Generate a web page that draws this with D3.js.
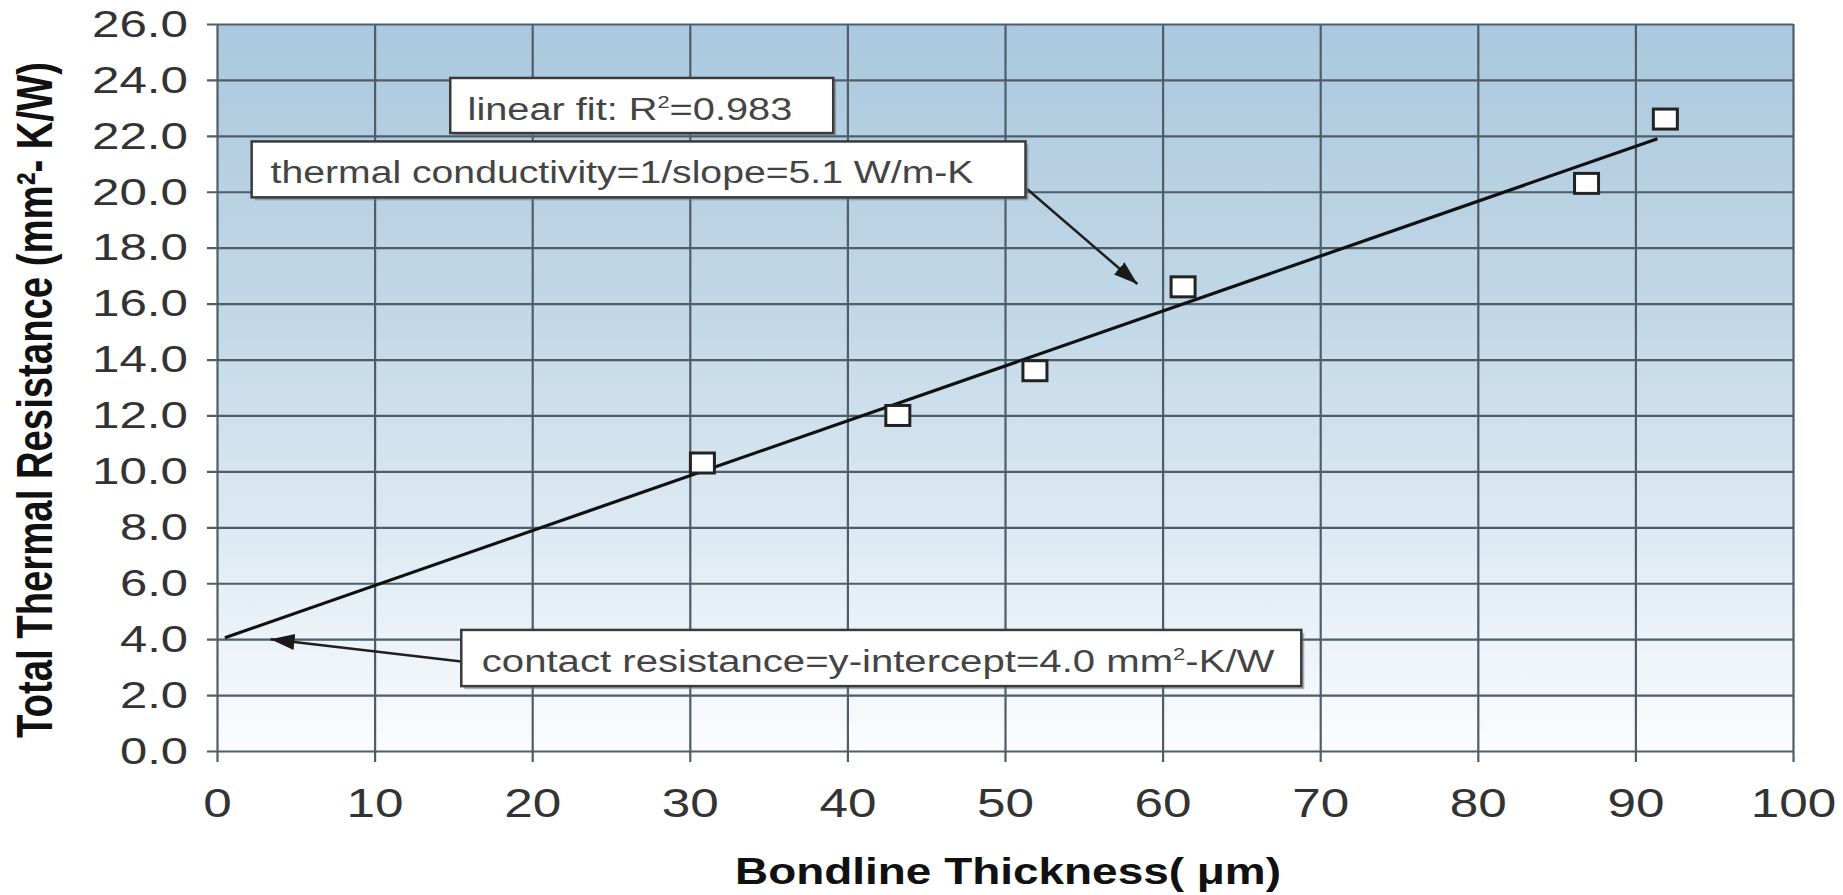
<!DOCTYPE html>
<html>
<head>
<meta charset="utf-8">
<script src="https://cdn.jsdelivr.net/npm/d3@7"></script>
<style>
body{margin:0;background:#fff;}
svg{display:block;font-family:"Liberation Sans",Arial,sans-serif;}
</style>
</head>
<body>
<svg id="chart" width="1843" height="895" viewBox="0 0 1843 895"></svg>
<script>
// measured points
const thickness = [30.8, 43.2, 51.9, 61.3, 86.9, 91.9]
const resistance = [10.3, 12.0, 13.6, 16.6, 20.3, 22.6]

// linear fit end points
const fit_x = [0.5, 91.4]
const fit_y = [4.05, 21.9]

const x_ticks = [0, 10, 20, 30, 40, 50, 60, 70, 80, 90, 100]
const y_ticks = [0, 2, 4, 6, 8, 10, 12, 14, 16, 18, 20, 22, 24, 26]

const x_title = "Bondline Thickness( \u03bcm)"
const y_title = "Total Thermal Resistance (mm\u00b2- K/W)"

// annotation boxes, in data units: [x0, yTop, x1, yBottom], text from tx0 to tx1
const notes = [
    {parts: [["linear fit: R", 0], ["2", 1], ["=0.983", 0]], box: [14.8, 24.07, 39.1, 22.1], tx: [15.9, 36.5]},
    {parts: [["thermal conductivity=1/slope=5.1 W/m-K", 0]], box: [2.2, 21.8, 51.3, 19.8], tx: [3.4, 48.0]},
    {parts: [["contact resistance=y-intercept=4.0 mm", 0], ["2", 1], ["-K/W", 0]], box: [15.5, 4.33, 68.8, 2.32], tx: [16.8, 67.1]}
]
const arrows = [
    {from: [51.4, 20.1], to: [58.4, 16.7]},
    {from: [15.5, 3.2], to: [3.4, 4.0]}
]

const svg = d3.select("#chart")
const m_left = 217, m_right = 1793, m_top = 24, m_bottom = 751
const w = m_right - m_left, h = m_bottom - m_top

const x = d3.scaleLinear().domain([0, 100]).range([m_left, m_right])
const y = d3.scaleLinear().domain([0, 26]).range([m_bottom, m_top])

const defs = svg.append("defs")
const grad = defs.append("linearGradient")
    .attr("id", "bg").attr("x1", 0).attr("y1", 0).attr("x2", 0).attr("y2", 1)
grad.append("stop").attr("offset", "0%").attr("stop-color", "#abc8de")
grad.append("stop").attr("offset", "40%").attr("stop-color", "#c2d8e7")
grad.append("stop").attr("offset", "75%").attr("stop-color", "#e2edf5")
grad.append("stop").attr("offset", "100%").attr("stop-color", "#fbfcfe")

defs.append("marker")
    .attr("id", "head")
    .attr("markerUnits", "userSpaceOnUse")
    .attr("markerWidth", 26).attr("markerHeight", 18)
    .attr("refX", 24).attr("refY", 8)
    .attr("orient", "auto")
    .append("path")
    .attr("d", "M0,0 L24,8 L0,16 Z")
    .attr("fill", "#1a1a1a")

svg.append("rect")
    .attr("x", m_left).attr("y", m_top)
    .attr("width", w).attr("height", h)
    .attr("fill", "url(#bg)")

// y axis with grid
const y_axis = svg.append("g")
    .attr("transform", `translate(${m_left},0)`)
    .call(d3.axisLeft(y).tickValues(y_ticks).tickSize(-w).tickSizeOuter(0).tickFormat(d3.format(".1f")))
y_axis.select(".domain").remove()
y_axis.selectAll("line")
    .attr("x1", -10)
    .attr("stroke", "#4f5d69").attr("stroke-width", 2.2)
y_axis.selectAll("text")
    .attr("x", -29)
    .attr("dy", "0.34em")
    .attr("font-size", 36)
    .attr("fill", "#333")
    .attr("font-family", "Liberation Sans, Arial, sans-serif")
    .attr("lengthAdjust", "spacingAndGlyphs")
    .attr("textLength", function() {
        const t = this.textContent
        return (t.length - 1) * 28 + 12
    })

// x axis with grid
const x_axis = svg.append("g")
    .attr("transform", `translate(0,${m_bottom})`)
    .call(d3.axisBottom(x).tickValues(x_ticks).tickSize(-h).tickSizeOuter(0))
x_axis.select(".domain").remove()
x_axis.selectAll("line")
    .attr("y1", 11)
    .attr("stroke", "#4f5d69").attr("stroke-width", 2.2)
x_axis.selectAll("text")
    .attr("y", 52)
    .attr("dy", "0.36em")
    .attr("font-size", 40)
    .attr("fill", "#333")
    .attr("font-family", "Liberation Sans, Arial, sans-serif")
    .attr("lengthAdjust", "spacingAndGlyphs")
    .attr("textLength", function() { return this.textContent.length * 28.5 })

// fit line
const fit = fit_x.map((v, i) => [v, fit_y[i]])
svg.append("path")
    .datum(fit)
    .attr("d", d3.line().x(d => x(d[0])).y(d => y(d[1])))
    .attr("stroke", "#111").attr("stroke-width", 3.2).attr("fill", "none")

// arrows
svg.append("g").selectAll("line")
    .data(arrows)
    .enter()
    .append("line")
    .attr("x1", d => x(d.from[0])).attr("y1", d => y(d.from[1]))
    .attr("x2", d => x(d.to[0])).attr("y2", d => y(d.to[1]))
    .attr("stroke", "#1f1f1f").attr("stroke-width", 2.5)
    .attr("marker-end", "url(#head)")

// boxes
const note_g = svg.append("g").selectAll("g")
    .data(notes)
    .enter()
    .append("g")

note_g.append("rect")
    .attr("x", d => x(d.box[0]) + 3).attr("y", d => y(d.box[1]) + 3)
    .attr("width", d => x(d.box[2]) - x(d.box[0]))
    .attr("height", d => y(d.box[3]) - y(d.box[1]))
    .attr("fill", "#6b7680").attr("opacity", 0.55)
note_g.append("rect")
    .attr("x", d => x(d.box[0])).attr("y", d => y(d.box[1]))
    .attr("width", d => x(d.box[2]) - x(d.box[0]))
    .attr("height", d => y(d.box[3]) - y(d.box[1]))
    .attr("fill", "#fff").attr("stroke", "#3a3a3a").attr("stroke-width", 2.5)

const note_text = note_g.append("text")
    .attr("x", d => x(d.tx[0]))
    .attr("y", d => y(d.box[1]) + 42)
    .attr("font-size", 31)
    .attr("fill", "#444")
    .attr("lengthAdjust", "spacingAndGlyphs")
    .attr("textLength", d => x(d.tx[1]) - x(d.tx[0]))
note_text.selectAll("tspan")
    .data(d => d.parts)
    .enter()
    .append("tspan")
    .attr("font-size", p => p[1] ? 17 : 31)
    .attr("dy", (p, i, nodes) => p[1] ? -12 : (i > 0 && d3.select(nodes[i - 1]).datum()[1] ? 12 : 0))
    .text(p => p[0])

// points
svg.append("g").selectAll("rect")
    .data(thickness)
    .enter()
    .append("rect")
    .attr("x", (d, i) => x(d) - 12)
    .attr("y", (d, i) => y(resistance[i]) - 10)
    .attr("width", 24).attr("height", 20)
    .attr("fill", "#fff").attr("stroke", "#222").attr("stroke-width", 3)

// titles
svg.append("text")
    .attr("x", 1008).attr("y", 884)
    .attr("text-anchor", "middle")
    .attr("font-size", 36).attr("font-weight", "bold").attr("fill", "#111")
    .attr("lengthAdjust", "spacingAndGlyphs").attr("textLength", 546)
    .text(x_title)

svg.append("text")
    .attr("transform", "translate(52,400) scale(1.4,1) rotate(-90)")
    .attr("text-anchor", "middle")
    .attr("font-size", 36).attr("font-weight", "bold").attr("fill", "#111")
    .attr("lengthAdjust", "spacingAndGlyphs").attr("textLength", 676)
    .text(y_title)
</script>
</body>
</html>
